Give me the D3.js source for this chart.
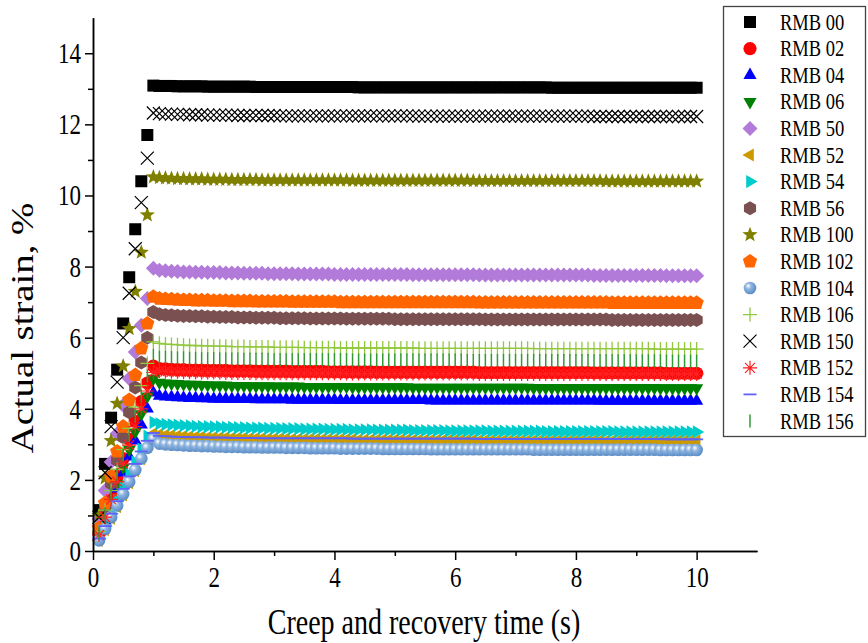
<!DOCTYPE html>
<html>
<head>
<meta charset="utf-8">
<script src="https://cdn.jsdelivr.net/npm/d3@7"></script>
<style>
  body { margin: 0; background: #fff; }
  text { font-family: "Liberation Serif", "Times New Roman", serif; }
</style>
</head>
<body>
<div id="chart"></div>
<script>
// series names, in legend (and drawing) order
var seriesNames = ["RMB 00", "RMB 02", "RMB 04", "RMB 06", "RMB 50", "RMB 52", "RMB 54", "RMB 56",
                   "RMB 100", "RMB 102", "RMB 104", "RMB 106", "RMB 150", "RMB 152", "RMB 154", "RMB 156"];

// creep part, t = 0.1 .. 1.0 s
var creepStrain = [
  [1.15, 2.45, 3.75, 5.10, 6.40, 7.70, 9.05, 10.40, 11.70, 13.09],
  [0.50, 1.00, 1.55, 2.10, 2.60, 3.15, 3.65, 4.20, 4.72, 5.20],
  [0.42, 0.85, 1.30, 1.75, 2.20, 2.65, 3.10, 3.55, 4.00, 4.45],
  [0.46, 0.93, 1.40, 1.88, 2.35, 2.85, 3.35, 3.85, 4.35, 4.85],
  [0.90, 1.70, 2.50, 3.30, 4.10, 4.85, 5.60, 6.35, 7.10, 7.95],
  [0.30, 0.60, 0.92, 1.25, 1.58, 1.92, 2.26, 2.60, 2.95, 3.30],
  [0.35, 0.70, 1.05, 1.42, 1.78, 2.15, 2.50, 2.87, 3.23, 3.62],
  [0.62, 1.25, 1.90, 2.55, 3.20, 3.90, 4.60, 5.30, 6.00, 6.72],
  [1.00, 2.05, 3.10, 4.15, 5.20, 6.25, 7.30, 8.40, 9.45, 10.52],
  [0.65, 1.35, 2.10, 2.80, 3.50, 4.25, 4.95, 5.70, 6.40, 7.15],
  [0.30, 0.62, 0.95, 1.28, 1.60, 1.95, 2.28, 2.60, 2.90, 3.15],
  [0.55, 1.15, 1.70, 2.30, 2.85, 3.45, 4.05, 4.65, 5.28, 5.88],
  [0.95, 2.20, 3.50, 4.75, 6.00, 7.25, 8.50, 9.80, 11.05, 12.32],
  [0.45, 0.95, 1.45, 1.95, 2.45, 2.98, 3.50, 4.00, 4.50, 5.02],
  [0.35, 0.70, 1.05, 1.40, 1.75, 2.10, 2.45, 2.80, 3.10, 3.32],
  [0.50, 1.05, 1.60, 2.15, 2.70, 3.25, 3.80, 4.35, 4.92, 5.50]
];

// recovery part, t = 1.1 .. 10.0 s (one line per second)
var recoveryStrain = [
  "13.08 13.08 13.08 13.07 13.07 13.07 13.07 13.07 13.06 13.06 " +
  "13.06 13.06 13.06 13.06 13.06 13.06 13.05 13.05 13.05 13.05 " +
  "13.05 13.05 13.05 13.05 13.05 13.05 13.05 13.05 13.05 13.05 " +
  "13.05 13.05 13.05 13.04 13.04 13.04 13.04 13.04 13.04 13.04 " +
  "13.04 13.04 13.04 13.04 13.04 13.04 13.04 13.04 13.04 13.04 " +
  "13.04 13.04 13.04 13.04 13.04 13.04 13.04 13.04 13.04 13.04 " +
  "13.04 13.04 13.04 13.04 13.04 13.03 13.03 13.03 13.03 13.03 " +
  "13.03 13.03 13.03 13.03 13.03 13.03 13.03 13.03 13.03 13.03 " +
  "13.03 13.03 13.03 13.03 13.03 13.03 13.03 13.03 13.03 13.03",
  "5.13 5.12 5.11 5.10 5.10 5.09 5.09 5.09 5.08 5.08 " +
  "5.08 5.08 5.07 5.07 5.07 5.07 5.06 5.06 5.06 5.06 " +
  "5.06 5.06 5.05 5.05 5.05 5.05 5.05 5.05 5.04 5.04 " +
  "5.04 5.04 5.04 5.04 5.04 5.04 5.03 5.03 5.03 5.03 " +
  "5.03 5.03 5.03 5.03 5.03 5.03 5.03 5.03 5.03 5.03 " +
  "5.03 5.03 5.03 5.02 5.02 5.02 5.02 5.02 5.02 5.02 " +
  "5.02 5.02 5.02 5.02 5.02 5.02 5.02 5.02 5.02 5.02 " +
  "5.02 5.02 5.01 5.01 5.01 5.01 5.01 5.01 5.01 5.01 " +
  "5.01 5.01 5.01 5.01 5.00 5.00 5.00 5.00 5.00 5.00",
  "4.36 4.34 4.33 4.32 4.31 4.30 4.30 4.29 4.29 4.28 " +
  "4.28 4.28 4.27 4.27 4.27 4.27 4.26 4.26 4.26 4.26 " +
  "4.26 4.26 4.25 4.25 4.25 4.25 4.25 4.25 4.25 4.25 " +
  "4.24 4.24 4.24 4.24 4.24 4.24 4.24 4.24 4.24 4.24 " +
  "4.24 4.24 4.24 4.24 4.24 4.23 4.23 4.23 4.23 4.23 " +
  "4.23 4.23 4.23 4.23 4.23 4.23 4.23 4.23 4.23 4.23 " +
  "4.23 4.23 4.23 4.23 4.23 4.23 4.23 4.23 4.23 4.23 " +
  "4.23 4.23 4.23 4.22 4.22 4.22 4.22 4.22 4.22 4.22 " +
  "4.22 4.22 4.22 4.22 4.22 4.22 4.22 4.22 4.22 4.22",
  "4.74 4.72 4.71 4.70 4.69 4.68 4.68 4.67 4.67 4.66 " +
  "4.66 4.66 4.65 4.65 4.65 4.64 4.64 4.64 4.64 4.63 " +
  "4.63 4.63 4.63 4.63 4.62 4.62 4.62 4.62 4.62 4.62 " +
  "4.62 4.62 4.61 4.61 4.61 4.61 4.61 4.61 4.61 4.61 " +
  "4.61 4.61 4.60 4.60 4.60 4.60 4.60 4.60 4.60 4.60 " +
  "4.60 4.60 4.60 4.60 4.60 4.60 4.60 4.60 4.60 4.60 " +
  "4.60 4.60 4.59 4.59 4.59 4.59 4.59 4.59 4.59 4.59 " +
  "4.59 4.59 4.59 4.59 4.59 4.59 4.59 4.59 4.59 4.59 " +
  "4.59 4.59 4.59 4.58 4.58 4.58 4.58 4.58 4.58 4.58",
  "7.90 7.88 7.87 7.86 7.85 7.85 7.84 7.84 7.83 7.83 " +
  "7.83 7.82 7.82 7.82 7.81 7.81 7.81 7.81 7.80 7.80 " +
  "7.80 7.80 7.80 7.79 7.79 7.79 7.79 7.79 7.79 7.78 " +
  "7.78 7.78 7.78 7.78 7.78 7.78 7.78 7.78 7.78 7.78 " +
  "7.78 7.78 7.77 7.77 7.77 7.77 7.77 7.77 7.77 7.77 " +
  "7.77 7.77 7.77 7.76 7.76 7.76 7.76 7.76 7.76 7.76 " +
  "7.76 7.76 7.76 7.76 7.76 7.76 7.76 7.76 7.76 7.76 " +
  "7.76 7.76 7.75 7.75 7.75 7.75 7.75 7.75 7.75 7.75 " +
  "7.75 7.75 7.75 7.75 7.74 7.74 7.74 7.74 7.74 7.74",
  "3.28 3.26 3.25 3.24 3.23 3.22 3.21 3.21 3.20 3.20 " +
  "3.19 3.19 3.18 3.18 3.18 3.17 3.17 3.17 3.16 3.16 " +
  "3.16 3.16 3.15 3.15 3.15 3.15 3.15 3.14 3.14 3.14 " +
  "3.14 3.14 3.14 3.13 3.13 3.13 3.13 3.13 3.13 3.13 " +
  "3.13 3.13 3.12 3.12 3.12 3.12 3.12 3.12 3.12 3.12 " +
  "3.12 3.12 3.12 3.11 3.11 3.11 3.11 3.11 3.11 3.11 " +
  "3.11 3.11 3.11 3.11 3.11 3.11 3.11 3.11 3.11 3.11 " +
  "3.11 3.11 3.11 3.11 3.10 3.10 3.10 3.10 3.10 3.10 " +
  "3.10 3.10 3.10 3.10 3.10 3.10 3.10 3.10 3.10 3.10",
  "3.58 3.56 3.55 3.54 3.53 3.52 3.51 3.50 3.50 3.49 " +
  "3.49 3.48 3.48 3.47 3.47 3.46 3.46 3.46 3.45 3.45 " +
  "3.45 3.44 3.44 3.44 3.43 3.43 3.43 3.43 3.42 3.42 " +
  "3.42 3.42 3.41 3.41 3.41 3.41 3.40 3.40 3.40 3.40 " +
  "3.40 3.40 3.39 3.39 3.39 3.39 3.39 3.39 3.38 3.38 " +
  "3.38 3.38 3.38 3.38 3.38 3.37 3.37 3.37 3.37 3.37 " +
  "3.37 3.37 3.37 3.37 3.36 3.36 3.36 3.36 3.36 3.36 " +
  "3.36 3.36 3.36 3.36 3.36 3.36 3.35 3.35 3.35 3.35 " +
  "3.35 3.35 3.35 3.35 3.35 3.35 3.35 3.35 3.35 3.35",
  "6.66 6.64 6.63 6.62 6.61 6.61 6.60 6.60 6.59 6.59 " +
  "6.58 6.58 6.58 6.57 6.57 6.57 6.56 6.56 6.56 6.56 " +
  "6.55 6.55 6.55 6.55 6.55 6.54 6.54 6.54 6.54 6.54 " +
  "6.54 6.53 6.53 6.53 6.53 6.53 6.53 6.53 6.53 6.52 " +
  "6.52 6.52 6.52 6.52 6.52 6.52 6.52 6.52 6.52 6.52 " +
  "6.52 6.52 6.52 6.52 6.51 6.51 6.51 6.51 6.51 6.51 " +
  "6.51 6.51 6.51 6.51 6.51 6.51 6.51 6.51 6.51 6.51 " +
  "6.51 6.51 6.51 6.51 6.51 6.50 6.50 6.50 6.50 6.50 " +
  "6.50 6.50 6.50 6.50 6.50 6.50 6.50 6.50 6.50 6.50",
  "10.50 10.49 10.48 10.47 10.47 10.46 10.46 10.46 10.45 10.45 " +
  "10.45 10.45 10.44 10.44 10.44 10.44 10.44 10.43 10.43 10.43 " +
  "10.43 10.43 10.43 10.43 10.43 10.43 10.43 10.43 10.43 10.43 " +
  "10.43 10.43 10.42 10.42 10.42 10.42 10.42 10.42 10.42 10.42 " +
  "10.42 10.42 10.42 10.42 10.42 10.42 10.42 10.42 10.42 10.42 " +
  "10.42 10.42 10.41 10.41 10.41 10.41 10.41 10.41 10.41 10.41 " +
  "10.41 10.41 10.41 10.41 10.41 10.41 10.41 10.41 10.41 10.41 " +
  "10.41 10.41 10.41 10.41 10.40 10.40 10.40 10.40 10.40 10.40 " +
  "10.40 10.40 10.40 10.40 10.40 10.40 10.40 10.40 10.40 10.40",
  "7.10 7.09 7.08 7.07 7.06 7.06 7.05 7.05 7.05 7.04 " +
  "7.04 7.04 7.03 7.03 7.03 7.03 7.02 7.02 7.02 7.02 " +
  "7.02 7.02 7.01 7.01 7.01 7.01 7.01 7.01 7.01 7.01 " +
  "7.00 7.00 7.00 7.00 7.00 7.00 7.00 7.00 7.00 7.00 " +
  "7.00 7.00 7.00 7.00 7.00 7.00 7.00 7.00 7.00 7.00 " +
  "7.00 7.00 7.00 6.99 6.99 6.99 6.99 6.99 6.99 6.99 " +
  "6.99 6.99 6.99 6.99 6.99 6.99 6.99 6.99 6.99 6.99 " +
  "6.99 6.99 6.99 6.99 6.99 6.98 6.98 6.98 6.98 6.98 " +
  "6.98 6.98 6.98 6.98 6.98 6.98 6.98 6.98 6.98 6.98",
  "3.02 3.00 2.99 2.98 2.97 2.96 2.96 2.95 2.95 2.94 " +
  "2.94 2.93 2.93 2.93 2.92 2.92 2.92 2.91 2.91 2.91 " +
  "2.91 2.90 2.90 2.90 2.90 2.89 2.89 2.89 2.89 2.89 " +
  "2.88 2.88 2.88 2.88 2.88 2.88 2.88 2.87 2.87 2.87 " +
  "2.87 2.87 2.87 2.87 2.87 2.86 2.86 2.86 2.86 2.86 " +
  "2.86 2.86 2.86 2.86 2.86 2.86 2.86 2.86 2.86 2.86 " +
  "2.86 2.86 2.85 2.85 2.85 2.85 2.85 2.85 2.85 2.85 " +
  "2.85 2.85 2.85 2.85 2.85 2.85 2.85 2.85 2.85 2.85 " +
  "2.85 2.85 2.85 2.84 2.84 2.84 2.84 2.84 2.84 2.84",
  "5.84 5.82 5.81 5.80 5.79 5.78 5.78 5.77 5.77 5.76 " +
  "5.76 5.76 5.75 5.75 5.75 5.74 5.74 5.74 5.74 5.73 " +
  "5.73 5.73 5.73 5.73 5.72 5.72 5.72 5.72 5.72 5.72 " +
  "5.71 5.71 5.71 5.71 5.71 5.71 5.71 5.71 5.71 5.71 " +
  "5.71 5.71 5.71 5.70 5.70 5.70 5.70 5.70 5.70 5.70 " +
  "5.70 5.70 5.70 5.70 5.70 5.70 5.70 5.70 5.70 5.70 " +
  "5.70 5.70 5.69 5.69 5.69 5.69 5.69 5.69 5.69 5.69 " +
  "5.69 5.69 5.69 5.69 5.69 5.69 5.69 5.69 5.69 5.69 " +
  "5.69 5.69 5.68 5.68 5.68 5.68 5.68 5.68 5.68 5.68",
  "12.30 12.29 12.29 12.28 12.28 12.27 12.27 12.27 12.26 12.26 " +
  "12.26 12.26 12.26 12.25 12.25 12.25 12.25 12.25 12.25 12.25 " +
  "12.24 12.24 12.24 12.24 12.24 12.24 12.24 12.24 12.24 12.24 " +
  "12.24 12.24 12.24 12.24 12.24 12.24 12.24 12.24 12.24 12.24 " +
  "12.24 12.24 12.24 12.23 12.23 12.23 12.23 12.23 12.23 12.23 " +
  "12.23 12.23 12.23 12.23 12.23 12.23 12.23 12.23 12.23 12.23 " +
  "12.23 12.23 12.23 12.23 12.23 12.23 12.23 12.23 12.23 12.23 " +
  "12.23 12.23 12.22 12.22 12.22 12.22 12.22 12.22 12.22 12.22 " +
  "12.22 12.22 12.22 12.22 12.22 12.22 12.22 12.22 12.22 12.22",
  "5.06 5.05 5.04 5.04 5.03 5.03 5.03 5.02 5.02 5.02 " +
  "5.02 5.01 5.01 5.01 5.01 5.01 5.00 5.00 5.00 5.00 " +
  "5.00 5.00 5.00 5.00 5.00 5.00 5.00 5.00 5.00 5.00 " +
  "5.00 4.99 4.99 4.99 4.99 4.99 4.99 4.99 4.99 4.99 " +
  "4.99 4.99 4.99 4.99 4.99 4.99 4.99 4.99 4.99 4.99 " +
  "4.99 4.99 4.99 4.98 4.98 4.98 4.98 4.98 4.98 4.98 " +
  "4.98 4.98 4.98 4.98 4.98 4.98 4.98 4.98 4.98 4.98 " +
  "4.98 4.98 4.98 4.98 4.98 4.98 4.98 4.98 4.98 4.98 " +
  "4.98 4.98 4.98 4.98 4.98 4.98 4.98 4.98 4.98 4.98",
  "3.24 3.23 3.22 3.21 3.21 3.20 3.20 3.20 3.19 3.19 " +
  "3.19 3.19 3.18 3.18 3.18 3.18 3.18 3.17 3.17 3.17 " +
  "3.17 3.17 3.17 3.17 3.17 3.17 3.17 3.17 3.17 3.17 " +
  "3.17 3.17 3.16 3.16 3.16 3.16 3.16 3.16 3.16 3.16 " +
  "3.16 3.16 3.16 3.16 3.16 3.16 3.16 3.16 3.16 3.16 " +
  "3.16 3.16 3.16 3.15 3.15 3.15 3.15 3.15 3.15 3.15 " +
  "3.15 3.15 3.15 3.15 3.15 3.15 3.15 3.15 3.15 3.15 " +
  "3.15 3.15 3.15 3.15 3.15 3.15 3.15 3.15 3.15 3.15 " +
  "3.15 3.15 3.15 3.15 3.14 3.14 3.14 3.14 3.14 3.14",
  "5.46 5.45 5.44 5.43 5.43 5.42 5.42 5.41 5.41 5.41 " +
  "5.40 5.40 5.40 5.40 5.39 5.39 5.39 5.39 5.39 5.38 " +
  "5.38 5.38 5.38 5.38 5.38 5.38 5.38 5.38 5.38 5.38 " +
  "5.38 5.38 5.37 5.37 5.37 5.37 5.37 5.37 5.37 5.37 " +
  "5.37 5.37 5.37 5.37 5.37 5.37 5.37 5.37 5.37 5.37 " +
  "5.37 5.36 5.36 5.36 5.36 5.36 5.36 5.36 5.36 5.36 " +
  "5.36 5.36 5.36 5.36 5.36 5.36 5.36 5.36 5.36 5.36 " +
  "5.36 5.36 5.35 5.35 5.35 5.35 5.35 5.35 5.35 5.35 " +
  "5.35 5.35 5.35 5.35 5.34 5.34 5.34 5.34 5.34 5.34"
];

var xTicks = [0, 2, 4, 6, 8, 10];
var yTicks = [0, 2, 4, 6, 8, 10, 12, 14];

var colors = ["#000000", "#ff0000", "#0000ff", "#008000", "#b27ad9", "#cc9a00", "#00cccc", "#7b5050",
              "#808000", "#ff6600", "#6a9bd1", "#92c83e", "#000000", "#ff2020", "#6060ff", "#339933"];
var symbols = ["square", "circle", "up", "down", "diamond", "left", "right", "hexagon",
               "star", "pentagon", "ball", "plus", "cross", "asterisk", "dash", "bar"];

(function(){

var width = 868, height = 643;
var serif = "'Liberation Serif', 'Times New Roman', serif";
var stretch = 1.25;   // the reference text is drawn taller than wide

var svg = d3.select("#chart")
  .append("svg")
    .attr("width", width)
    .attr("height", height);

var defs = svg.append("defs");
var grad = defs.append("radialGradient")
    .attr("id", "ball")
    .attr("cx", "40%").attr("cy", "40%").attr("r", "60%")
    .attr("fx", "35%").attr("fy", "32%");
grad.append("stop").attr("offset", "0%").attr("stop-color", "#ffffff");
grad.append("stop").attr("offset", "40%").attr("stop-color", "#8fb5e0");
grad.append("stop").attr("offset", "100%").attr("stop-color", "#5a8cc6");

var x = d3.scaleLinear().domain([0, 11]).range([93, 757]);
var y = d3.scaleLinear().domain([0, 15]).range([551, 17.7]);

// time grid: 0.1 s steps up to 10 s
var times = d3.range(1, 101).map(function(i){ return i / 10; });

function poly(n, r, start) {
  var pts = [];
  for (var i = 0; i < n; i++) {
    var a = (start + i * 360 / n) * Math.PI / 180;
    pts.push([r * Math.cos(a), r * Math.sin(a)]);
  }
  return "M" + pts.map(function(p){ return p[0].toFixed(2) + "," + p[1].toFixed(2); }).join("L") + "Z";
}

function star(r1, r2) {
  var pts = [];
  for (var i = 0; i < 10; i++) {
    var a = (-90 + i * 36) * Math.PI / 180, r = i % 2 ? r2 : r1;
    pts.push([r * Math.cos(a), r * Math.sin(a)]);
  }
  return "M" + pts.map(function(p){ return p[0].toFixed(2) + "," + p[1].toFixed(2); }).join("L") + "Z";
}

// marker shapes: filled ones use path fill, line ones use stroke
var shapes = {
  square:   { d: "M-6,-6h12v12h-12z", fill: true },
  circle:   { d: "M6.6,0A6.6,6.6 0 1,1 -6.6,0A6.6,6.6 0 1,1 6.6,0Z", fill: true },
  ball:     { d: "M6.3,0A6.3,6.3 0 1,1 -6.3,0A6.3,6.3 0 1,1 6.3,0Z", fill: true },
  up:       { d: poly(3, 7.6, -90), fill: true },
  down:     { d: poly(3, 7.6, 90), fill: true },
  left:     { d: poly(3, 7.6, 180), fill: true },
  right:    { d: poly(3, 7.6, 0), fill: true },
  diamond:  { d: "M0,-7.5L7.5,0L0,7.5L-7.5,0Z", fill: true },
  hexagon:  { d: poly(6, 7, -90), fill: true },
  pentagon: { d: poly(5, 7.5, -90), fill: true },
  star:     { d: star(8, 3.4), fill: true },
  plus:     { d: "M-7,0H7M0,-7V7", fill: false, w: 1.3 },
  cross:    { d: "M-6.5,-6.5L6.5,6.5M-6.5,6.5L6.5,-6.5", fill: false, w: 1.2 },
  asterisk: { d: "M-7,0H7M0,-7V7M-5,-5L5,5M-5,5L5,-5", fill: false, w: 1.2 },
  dash:     { d: "M-6.5,0H6.5", fill: false, w: 1.8 },
  bar:      { d: "M0,-6.5V6.5", fill: false, w: 1.5 }
};

function styleMarker(sel, i) {
  var s = shapes[symbols[i]];
  sel.attr("d", s.d);
  if (s.fill) {
    sel.attr("fill", symbols[i] == "ball" ? "url(#ball)" : colors[i]).attr("stroke", "none");
  } else {
    sel.attr("fill", "none").attr("stroke", colors[i]).attr("stroke-width", s.w);
  }
}

var plot = svg.append("g");

seriesNames.forEach(function(name, i) {
  var vals = creepStrain[i].concat(recoveryStrain[i].split(" ").map(Number));
  var pts = times.map(function(t, k){ return { t: t, v: vals[k] }; });

  plot.append("g")
    .selectAll("path")
    .data(pts)
    .enter()
    .append("path")
      .attr("transform", function(d){ return "translate(" + x(d.t) + "," + y(d.v) + ")"; })
      .call(styleMarker, i);
});

// axes
var xAxis = svg.append("g")
    .attr("transform", "translate(0," + y(0) + ")")
    .call(d3.axisBottom(x).tickValues(xTicks).tickSize(9).tickSizeOuter(0));
svg.append("g")
    .attr("transform", "translate(0," + y(0) + ")")
    .call(d3.axisBottom(x).tickValues([1, 3, 5, 7, 9]).tickSize(5).tickFormat("").tickSizeOuter(0));

var yAxis = svg.append("g")
    .attr("transform", "translate(" + x(0) + ",0)")
    .call(d3.axisLeft(y).tickValues(yTicks).tickSize(8).tickSizeOuter(0));
svg.append("g")
    .attr("transform", "translate(" + x(0) + ",0)")
    .call(d3.axisLeft(y).tickValues([1, 3, 5, 7, 9, 11, 13]).tickSize(5).tickFormat("").tickSizeOuter(0));

svg.selectAll(".domain").attr("stroke", "#000").attr("stroke-width", 1.5);
svg.selectAll(".tick line").attr("stroke", "#000").attr("stroke-width", 1.5);

// tick labels: serif, stretched upright like the original
xAxis.attr("font-family", serif).attr("font-size", 23);
xAxis.selectAll(".tick text")
    .attr("fill", "#000")
    .attr("y", 0).attr("dy", 0)
    .attr("transform", "translate(0,36) scale(1," + stretch + ")");

yAxis.attr("font-family", serif).attr("font-size", 23);
yAxis.selectAll(".tick text")
    .attr("fill", "#000")
    .attr("x", 0).attr("dy", 0)
    .attr("transform", "translate(-12,9.5) scale(1," + stretch + ")");

// axis titles
svg.append("text")
    .attr("transform", "translate(424,634) scale(1," + stretch + ")")
    .attr("text-anchor", "middle")
    .attr("font-size", "28px")
    .attr("fill", "#000")
    .text("Creep and recovery time (s)");

svg.append("text")
    .attr("transform", "translate(33,328) rotate(-90) scale(" + stretch + ",1)")
    .attr("text-anchor", "middle")
    .attr("font-size", "31px")
    .attr("fill", "#000")
    .text("Actual strain, %");

// legend
var legend = svg.append("g");
legend.append("rect")
    .attr("x", 723.5).attr("y", 6.5)
    .attr("width", 142).attr("height", 430)
    .attr("fill", "#fff")
    .attr("stroke", "#444")
    .attr("stroke-width", 1.3);

var rows = legend.selectAll(".row")
    .data(seriesNames)
    .enter()
    .append("g")
      .attr("transform", function(d, i){ return "translate(750," + (22 + i * 26.6) + ")"; });

rows.append("path").each(function(d, i){ d3.select(this).call(styleMarker, i); });
rows.append("text")
    .attr("transform", "translate(30,7.5) scale(1," + stretch + ")")
    .attr("font-size", "18.5px")
    .attr("fill", "#000")
    .text(function(d){ return d; });

})();
</script>
</body>
</html>
